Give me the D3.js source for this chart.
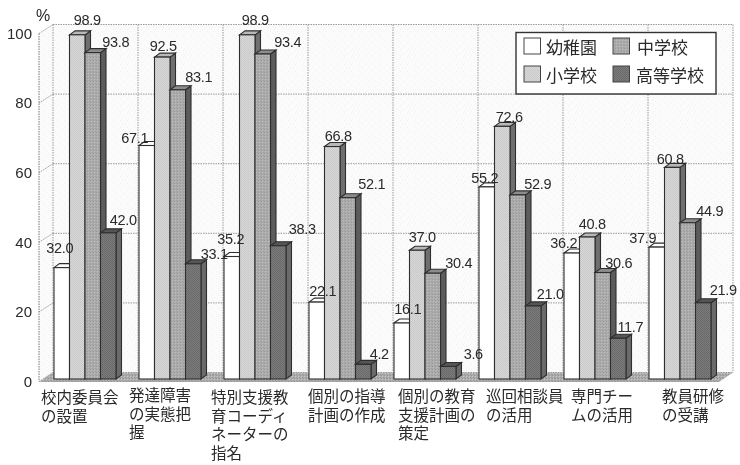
<!DOCTYPE html>
<html><head><meta charset="utf-8">
<style>html,body{margin:0;padding:0;background:#fff}svg{display:block;filter:blur(0.35px)}</style>
<script src="https://cdn.jsdelivr.net/npm/d3@7"></script></head><body>
<svg id="c" width="740" height="465"></svg>
<script>
const categories = ["校内委員会の設置","発達障害の実態把握","特別支援教育コーディネーターの指名","個別の指導計画の作成","個別の教育支援計画の策定","巡回相談員の活用","専門チームの活用","教員研修の受講"];
const categoryLines = [["校内委員会","の設置"],["発達障害","の実態把","握"],["特別支援教","育コーディ","ネーターの","指名"],["個別の指導","計画の作成"],["個別の教育","支援計画の","策定"],["巡回相談員","の活用"],["専門チー","ムの活用"],["教員研修","の受講"]];
const seriesNames = ["幼稚園","小学校","中学校","高等学校"];
const kindergarten = [32.0,67.1,35.2,22.1,16.1,55.2,36.2,37.9];
const elementary   = [98.9,92.5,98.9,66.8,37.0,72.6,40.8,60.8];
const juniorHigh   = [93.8,83.1,93.4,52.1,30.4,52.9,30.6,44.9];
const seniorHigh   = [42.0,33.1,38.3,4.2,3.6,21.0,11.7,21.9];
const yTicks = [0,20,40,60,80,100];

// Layout only: label nudges relative to each bar's top centre
const labelNudge = [
 [[-2,-20],[-12,-8],[-1,-18],[6,-11],[6,-14],[-2,-9],[-8,-10],[-14,-9]],
 [[10,-15],[1,-11],[8,-15],[6,-10.5],[5,-13],[7,-10],[5,-13],[-2,-9]],
 [[23,-11],[21,-13],[25,-12],[24,-14],[26,-10],[20,-11],[16,-9.5],[22,-12]],
 [[15,-13],[21,-10],[24,-17],[16,-11],[25,-13],[17,-12],[12,-12],[20,-13]]];
const catLabelX = [41,129,211,308,398,486,571,662];
const catLabelY = [397,395,397,396,396,396,396,396];
const faceFills = ["#ffffff","url(#p1)","url(#p2)","url(#p3)"];
const sideFills = ["#f4f4f4","#6f6f6f","#5c5c5c","#6a6a6a"];
const topFills  = ["#ffffff","#b8b8b8","#8c8c8c","#555555"];

const series = [kindergarten,elementary,juniorHigh,seniorHigh];
const svg = d3.select("#c");
const defs = svg.append("defs");
function tile(id,size,bg,dots){
  const p = defs.append("pattern").attr("id",id).attr("width",size).attr("height",size).attr("patternUnits","userSpaceOnUse");
  p.append("rect").attr("width",size).attr("height",size).attr("fill",bg);
  dots.forEach(d=>p.append("rect").attr("x",d[0]).attr("y",d[1]).attr("width",1).attr("height",1).attr("fill",d[2]));
}
tile("wall",7,"#fbfbfb",[[1,1,"#f0f0f0"],[4,3,"#f2f2f2"],[6,5,"#f3f3f3"],[2,6,"#f1f1f1"]]);
tile("floor",3,"#adadad",[[0,0,"#929292"],[1,1,"#c6c6c6"],[2,2,"#989898"]]);
tile("p1",2,"#d8d8d8",[[0,0,"#c8c8c8"],[1,1,"#cacaca"]]);
tile("p2",3,"#acacac",[[0,0,"#989898"],[1,1,"#bcbcbc"],[2,2,"#a0a0a0"]]);
tile("p3",2,"#7c7c7c",[[0,0,"#666666"],[1,1,"#6c6c6c"]]);

const y = d3.scaleLinear().domain([0,100]).range([381.5,33.5]);
const depth = {dx:14, dy:9};
const wallLeft = 53, wallRight = 733;
const xGroup = d3.scaleBand().domain(categories).range([wallLeft,wallRight]).paddingInner(0).paddingOuter(0);
const xSeries = d3.scaleBand().domain(d3.range(4)).range([1,63]);
const poly = pts => pts.map(p=>p.join(",")).join(" ");
const y0 = y(0), y100 = y(100);

// walls
svg.append("polygon").attr("points",poly([[wallLeft,y100-depth.dy],[wallRight,y100-depth.dy],[wallRight,y0-depth.dy],[wallLeft,y0-depth.dy]])).attr("fill","url(#wall)");
svg.append("polygon").attr("points",poly([[wallLeft-depth.dx,y100],[wallLeft,y100-depth.dy],[wallLeft,y0-depth.dy],[wallLeft-depth.dx,y0]])).attr("fill","url(#wall)");
svg.append("polygon").attr("points",poly([[wallLeft-depth.dx,y0+0.5],[wallLeft,y0-depth.dy],[wallRight,y0-depth.dy],[wallRight-depth.dx,y0+0.5]])).attr("fill","url(#floor)");

const grid = svg.append("g").attr("stroke","#9a9a9a").attr("stroke-width",1).attr("stroke-dasharray","1.5 1").attr("fill","none");
yTicks.forEach(t=>{
  grid.append("line").attr("x1",wallLeft).attr("x2",wallRight).attr("y1",y(t)-depth.dy).attr("y2",y(t)-depth.dy);
  grid.append("line").attr("x1",wallLeft-depth.dx).attr("x2",wallLeft).attr("y1",y(t)).attr("y2",y(t)-depth.dy);
});
categories.forEach(c=>{
  const x=xGroup(c);
  grid.append("line").attr("x1",x).attr("x2",x).attr("y1",y100-depth.dy).attr("y2",y0-depth.dy);
});
grid.append("line").attr("x1",wallRight).attr("x2",wallRight).attr("y1",y100-depth.dy).attr("y2",y0-depth.dy);
grid.append("line").attr("x1",wallLeft-depth.dx).attr("x2",wallLeft-depth.dx).attr("y1",y100).attr("y2",y0).attr("stroke","#777").attr("stroke-dasharray",null);

// bars
const bw = xSeries.bandwidth(), bdx = 5.5, bdy = 4, base = 2.5;
const bars = svg.append("g").attr("stroke","#2e2e2e").attr("stroke-width",1.1).attr("stroke-linejoin","miter");
categories.forEach((c,g)=>{
  series.forEach((vals,s)=>{
    const x = xGroup(c)+xSeries(s), top = y(vals[g])-base, bot = y0-base;
    bars.append("polygon").attr("points",poly([[x+bw,top],[x+bw+bdx,top-bdy],[x+bw+bdx,bot-bdy],[x+bw,bot]])).attr("fill",sideFills[s]);
    bars.append("polygon").attr("points",poly([[x,top],[x+bdx,top-bdy],[x+bw+bdx,top-bdy],[x+bw,top]])).attr("fill",topFills[s]);
    bars.append("rect").attr("x",x).attr("y",top).attr("width",bw).attr("height",bot-top).attr("fill",faceFills[s]);
  });
});

// value labels
const labels = svg.append("g").attr("font-family","'Liberation Sans',Arial,sans-serif").attr("font-size",14.5).attr("letter-spacing",-0.35).attr("fill","#2a2a2a").attr("text-anchor","middle");
categories.forEach((c,g)=>{
  series.forEach((vals,s)=>{
    const n = labelNudge[s][g];
    labels.append("text").attr("x",xGroup(c)+xSeries(s)+bw/2+n[0]).attr("y",y(vals[g])-base+n[1]).attr("dy","0.36em").text(vals[g].toFixed(1));
  });
});

// y axis
const axis = svg.append("g").attr("transform","translate(32,0)").call(d3.axisLeft(y).tickValues(yTicks).tickSize(0).tickPadding(0));
axis.select(".domain").remove();
axis.selectAll("text").attr("font-family","'Liberation Sans',Arial,sans-serif").attr("font-size",15).attr("fill","#2a2a2a");
svg.append("text").attr("x",36).attr("y",21).attr("font-family","'Liberation Sans',Arial,sans-serif").attr("font-size",16).attr("fill","#2a2a2a").text("%");

// category labels: one text per category, wrapped with tspans
const cat = svg.append("g").attr("font-family","'Noto Sans CJK JP',sans-serif").attr("font-size",15.5).attr("fill","#2a2a2a");
categoryLines.forEach((lines,i)=>{
  const t = cat.append("text").attr("y",catLabelY[i]+6);
  lines.forEach((l,j)=>t.append("tspan").attr("x",catLabelX[i]).attr("dy",j?18.5:0).text(l));
});

// legend
const lg = svg.append("g");
lg.append("rect").attr("x",516).attr("y",32.5).attr("width",200).attr("height",61.5).attr("fill","#fff").attr("stroke","#333").attr("stroke-width",1.4);
const legendX = [524,524,613,613], legendY=[38,66,38,66], legendTextX=[546,546,637,636];
const legendOrder = [0,1,2,3];
legendOrder.forEach(i=>{
  lg.append("rect").attr("x",legendX[i]).attr("y",legendY[i]).attr("width",16.5).attr("height",16).attr("fill",faceFills[i]).attr("stroke","#444").attr("stroke-width",1);
  lg.append("text").attr("x",legendTextX[i]).attr("y",legendY[i]+15.5).attr("font-family","'Noto Sans CJK JP',sans-serif").attr("font-size",17).attr("fill","#2a2a2a").text(seriesNames[i]);
});
</script></body></html>
